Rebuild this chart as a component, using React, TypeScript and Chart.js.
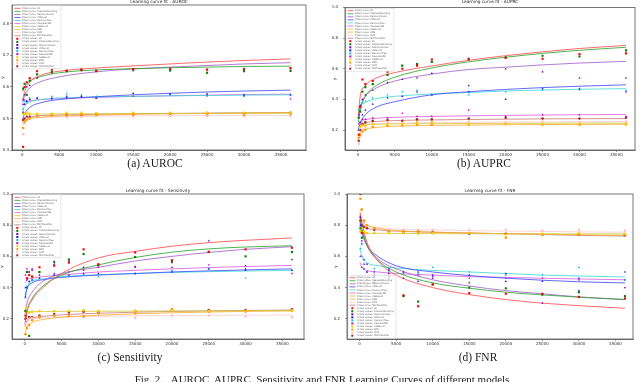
import React, { useEffect, useRef } from "react";
import { Chart, registerables } from "chart.js";

Chart.register(...registerables);

const MODELS = ["LR", "GradientBoosting", "RandomForest", "XGBoost", "DecisionTree", "GaussianNB", "AdaBoost", "KNN", "SVM", "MLPClassifier"];
const X_SIZES = [100, 300, 600, 1000, 2000, 4000, 6000, 8000, 10000, 15000, 20000, 25000, 30000, 36300];
const CURVE_X = [50, 300, 1000, 2500, 5000, 10000, 15000, 20000, 25000, 30000, 36300];
const X_TICKS = [0, 5000, 10000, 15000, 20000, 25000, 30000, 35000];
const Y_TICKS_AUROC = [0.4, 0.5, 0.6, 0.7, 0.8];
const Y_TICKS_UNIT = [0.2, 0.4, 0.6, 0.8, 1.0];

const FIT_COLORS = ["rgba(255,70,70,0.8)", "rgba(40,160,40,0.8)", "rgba(160,90,200,0.8)", "rgba(60,70,255,0.8)", "rgba(60,215,215,0.8)", "rgba(220,90,220,0.8)", "rgba(210,200,50,0.8)", "rgba(255,170,40,0.8)", "rgba(255,200,200,0.8)", "rgba(200,120,120,0.8)"];
const PT_COLORS = ["#ff0000", "#008000", "#7a00b8", "#1a1aff", "#00cccc", "#cc00cc", "#ffcc00", "#ff9900", "#ffc0cb", "#a52a2a"];
const PT_STYLES = ["rect", "rect", "triangle", "triangle", "triangle", "triangle", "circle", "circle", "circle", "circle"];

// ---- AUROC ----
const AUROC_FIT = [
  [0.56, 0.585, 0.615, 0.637, 0.650, 0.660, 0.667, 0.673, 0.679, 0.684, 0.689],
  [0.585, 0.600, 0.618, 0.633, 0.645, 0.654, 0.658, 0.661, 0.663, 0.665, 0.666],
  [0.55, 0.572, 0.597, 0.617, 0.632, 0.648, 0.657, 0.663, 0.668, 0.673, 0.677],
  [0.50, 0.515, 0.535, 0.550, 0.560, 0.569, 0.575, 0.580, 0.584, 0.587, 0.590],
  [0.525, 0.540, 0.552, 0.560, 0.565, 0.568, 0.570, 0.572, 0.573, 0.574, 0.575],
  [0.540, 0.548, 0.555, 0.560, 0.563, 0.567, 0.570, 0.572, 0.574, 0.576, 0.577],
  [0.512, 0.513, 0.514, 0.514, 0.515, 0.515, 0.516, 0.516, 0.516, 0.517, 0.517],
  [0.480, 0.490, 0.499, 0.504, 0.508, 0.511, 0.513, 0.515, 0.516, 0.517, 0.518],
  [0.490, 0.495, 0.500, 0.503, 0.505, 0.507, 0.508, 0.509, 0.509, 0.510, 0.510],
  [0.495, 0.500, 0.505, 0.509, 0.511, 0.513, 0.515, 0.516, 0.517, 0.518, 0.519],
];
const AUROC_PTS = [
  [0.41, 0.600, 0.615, 0.628, 0.650, 0.655, 0.652, 0.655, 0.650, 0.657, 0.658, 0.655, 0.657, 0.660],
  [0.595, 0.610, 0.575, 0.620, 0.640, 0.648, 0.650, 0.655, 0.652, 0.655, 0.652, 0.645, 0.650, 0.652],
  [0.560, 0.575, 0.600, 0.605, 0.628, 0.645, 0.650, 0.652, 0.650, 0.652, 0.655, 0.655, 0.650, 0.650],
  [0.52, 0.545, 0.555, 0.560, 0.565, 0.562, 0.566, 0.570, 0.565, 0.580, 0.577, 0.578, 0.575, 0.575],
  [0.530, 0.555, 0.550, 0.565, 0.565, 0.570, 0.578, 0.575, 0.570, 0.572, 0.575, 0.575, 0.570, 0.575],
  [0.545, 0.558, 0.555, 0.560, 0.565, 0.565, 0.570, 0.568, 0.565, 0.570, 0.578, 0.572, 0.572, 0.562],
  [0.515, 0.515, 0.518, 0.515, 0.515, 0.515, 0.518, 0.518, 0.517, 0.518, 0.518, 0.519, 0.518, 0.519],
  [0.470, 0.490, 0.495, 0.500, 0.508, 0.510, 0.510, 0.512, 0.512, 0.512, 0.515, 0.515, 0.512, 0.515],
  [0.450, 0.485, 0.500, 0.500, 0.505, 0.508, 0.505, 0.505, 0.508, 0.506, 0.508, 0.508, 0.508, 0.507],
  [0.495, 0.500, 0.505, 0.505, 0.508, 0.510, 0.512, 0.512, 0.513, 0.514, 0.516, 0.515, 0.516, 0.518],
];

// ---- AUPRC ----
const AUPRC_FIT = [
  [0.30, 0.42, 0.49, 0.54, 0.575, 0.618, 0.655, 0.685, 0.710, 0.732, 0.752],
  [0.25, 0.33, 0.42, 0.49, 0.545, 0.605, 0.645, 0.675, 0.700, 0.720, 0.740],
  [0.28, 0.35, 0.42, 0.475, 0.52, 0.565, 0.595, 0.61, 0.625, 0.637, 0.648],
  [0.20, 0.245, 0.30, 0.35, 0.385, 0.43, 0.45, 0.465, 0.477, 0.486, 0.495],
  [0.33, 0.355, 0.38, 0.405, 0.42, 0.435, 0.445, 0.455, 0.461, 0.466, 0.470],
  [0.24, 0.255, 0.268, 0.277, 0.283, 0.289, 0.293, 0.296, 0.298, 0.300, 0.302],
  [0.225, 0.23, 0.235, 0.238, 0.24, 0.242, 0.243, 0.244, 0.244, 0.245, 0.245],
  [0.16, 0.185, 0.205, 0.217, 0.225, 0.23, 0.233, 0.235, 0.236, 0.237, 0.238],
  [0.20, 0.22, 0.233, 0.24, 0.245, 0.248, 0.25, 0.252, 0.253, 0.254, 0.255],
  [0.22, 0.235, 0.248, 0.256, 0.262, 0.266, 0.269, 0.271, 0.273, 0.274, 0.275],
];
const AUPRC_PTS = [
  [0.17, 0.35, 0.53, 0.50, 0.52, 0.58, 0.60, 0.62, 0.66, 0.665, 0.67, 0.665, 0.695, 0.70],
  [0.28, 0.32, 0.45, 0.48, 0.50, 0.56, 0.62, 0.63, 0.645, 0.66, 0.675, 0.685, 0.68, 0.72],
  [0.30, 0.36, 0.40, 0.43, 0.46, 0.51, 0.53, 0.54, 0.57, 0.49, 0.60, 0.58, 0.54, 0.54],
  [0.20, 0.25, 0.30, 0.33, 0.37, 0.41, 0.42, 0.45, 0.43, 0.45, 0.40, 0.47, 0.47, 0.45],
  [0.33, 0.36, 0.38, 0.39, 0.41, 0.43, 0.45, 0.46, 0.43, 0.43, 0.45, 0.46, 0.46, 0.46],
  [0.24, 0.25, 0.27, 0.27, 0.28, 0.28, 0.31, 0.29, 0.29, 0.33, 0.29, 0.30, 0.30, 0.29],
  [0.20, 0.22, 0.23, 0.23, 0.24, 0.24, 0.24, 0.25, 0.25, 0.24, 0.24, 0.24, 0.24, 0.235],
  [0.15, 0.17, 0.19, 0.20, 0.22, 0.23, 0.23, 0.235, 0.235, 0.235, 0.24, 0.235, 0.235, 0.24],
  [0.11, 0.16, 0.20, 0.22, 0.24, 0.25, 0.245, 0.25, 0.25, 0.255, 0.25, 0.255, 0.25, 0.255],
  [0.13, 0.20, 0.24, 0.25, 0.26, 0.265, 0.26, 0.27, 0.27, 0.275, 0.28, 0.275, 0.275, 0.28],
];

// ---- Sensitivity ----
const SENS_FIT = [
  [0.15, 0.24, 0.32, 0.40, 0.49, 0.59, 0.632, 0.665, 0.688, 0.703, 0.718],
  [0.17, 0.25, 0.33, 0.41, 0.48, 0.545, 0.593, 0.627, 0.648, 0.66, 0.668],
  [0.23, 0.30, 0.37, 0.44, 0.49, 0.53, 0.57, 0.60, 0.625, 0.645, 0.662],
  [0.33, 0.39, 0.43, 0.45, 0.465, 0.48, 0.49, 0.50, 0.507, 0.513, 0.52],
  [0.35, 0.40, 0.44, 0.455, 0.47, 0.482, 0.49, 0.497, 0.502, 0.506, 0.51],
  [0.43, 0.45, 0.46, 0.47, 0.48, 0.50, 0.51, 0.52, 0.528, 0.535, 0.542],
  [0.24, 0.243, 0.245, 0.246, 0.247, 0.248, 0.249, 0.25, 0.25, 0.251, 0.252],
  [0.10, 0.145, 0.175, 0.195, 0.21, 0.222, 0.232, 0.238, 0.243, 0.247, 0.25],
  [0.17, 0.19, 0.20, 0.205, 0.21, 0.215, 0.218, 0.22, 0.222, 0.223, 0.224],
  [0.16, 0.19, 0.205, 0.215, 0.225, 0.235, 0.242, 0.247, 0.25, 0.253, 0.256],
];
const SENS_PTS = [
  [0.22, 0.46, 0.48, 0.47, 0.53, 0.54, 0.56, 0.645, 0.55, 0.625, 0.575, 0.63, 0.645, 0.655],
  [0.25, 0.50, 0.09, 0.47, 0.50, 0.565, 0.58, 0.615, 0.545, 0.596, 0.568, 0.628, 0.60, 0.628],
  [0.40, 0.45, 0.50, 0.52, 0.48, 0.55, 0.57, 0.53, 0.54, 0.535, 0.56, 0.70, 0.54, 0.58],
  [0.34, 0.40, 0.44, 0.45, 0.46, 0.48, 0.48, 0.49, 0.49, 0.49, 0.50, 0.52, 0.51, 0.51],
  [0.36, 0.41, 0.43, 0.45, 0.46, 0.48, 0.47, 0.48, 0.47, 0.49, 0.51, 0.52, 0.46, 0.51],
  [0.48, 0.52, 0.50, 0.51, 0.50, 0.49, 0.50, 0.51, 0.53, 0.53, 0.53, 0.545, 0.52, 0.49],
  [0.25, 0.27, 0.24, 0.245, 0.25, 0.25, 0.25, 0.255, 0.25, 0.25, 0.255, 0.25, 0.25, 0.25],
  [0.10, 0.14, 0.16, 0.19, 0.21, 0.22, 0.22, 0.215, 0.235, 0.235, 0.26, 0.245, 0.245, 0.255],
  [0.17, 0.19, 0.20, 0.205, 0.21, 0.215, 0.215, 0.215, 0.22, 0.205, 0.22, 0.22, 0.215, 0.21],
  [0.20, 0.19, 0.21, 0.21, 0.22, 0.23, 0.24, 0.245, 0.24, 0.25, 0.26, 0.255, 0.255, 0.26],
];

// ---- FNR ----
const FNR_FIT = [
  [0.88, 0.82, 0.69, 0.57, 0.48, 0.40, 0.355, 0.323, 0.30, 0.284, 0.267],
  [0.86, 0.78, 0.67, 0.575, 0.50, 0.43, 0.396, 0.37, 0.353, 0.338, 0.323],
  [0.86, 0.79, 0.68, 0.585, 0.52, 0.45, 0.41, 0.38, 0.36, 0.34, 0.323],
  [0.82, 0.755, 0.67, 0.60, 0.54, 0.50, 0.477, 0.46, 0.447, 0.437, 0.43],
  [0.65, 0.60, 0.56, 0.54, 0.525, 0.51, 0.50, 0.49, 0.48, 0.474, 0.468],
  [0.56, 0.53, 0.51, 0.50, 0.49, 0.48, 0.47, 0.465, 0.46, 0.455, 0.45],
  [0.75, 0.749, 0.748, 0.748, 0.747, 0.746, 0.745, 0.745, 0.745, 0.744, 0.744],
  [0.87, 0.83, 0.80, 0.78, 0.765, 0.755, 0.75, 0.745, 0.742, 0.738, 0.735],
  [0.90, 0.84, 0.80, 0.785, 0.775, 0.77, 0.765, 0.762, 0.76, 0.757, 0.755],
  [0.83, 0.80, 0.78, 0.77, 0.762, 0.755, 0.75, 0.745, 0.74, 0.735, 0.73],
];
const FNR_PTS = [
  [1.0, 0.75, 0.43, 0.42, 0.43, 0.47, 0.35, 0.28, 0.42, 0.365, 0.36, 0.36, 0.34, 0.33],
  [0.78, 0.72, 0.43, 0.45, 0.44, 0.46, 0.345, 0.31, 0.42, 0.40, 0.395, 0.355, 0.37, 0.345],
  [0.85, 0.70, 0.55, 0.50, 0.47, 0.49, 0.46, 0.44, 0.46, 0.43, 0.44, 0.30, 0.38, 0.40],
  [0.80, 0.68, 0.58, 0.55, 0.50, 0.52, 0.50, 0.50, 0.48, 0.48, 0.49, 0.44, 0.46, 0.50],
  [0.65, 0.60, 0.52, 0.50, 0.52, 0.50, 0.49, 0.49, 0.53, 0.50, 0.48, 0.48, 0.53, 0.45],
  [0.60, 0.53, 0.52, 0.50, 0.48, 0.51, 0.50, 0.48, 0.47, 0.46, 0.46, 0.46, 0.45, 0.45],
  [0.76, 0.78, 0.76, 0.75, 0.75, 0.75, 0.75, 0.745, 0.75, 0.75, 0.74, 0.745, 0.75, 0.745],
  [0.97, 0.90, 0.83, 0.80, 0.78, 0.76, 0.76, 0.76, 0.75, 0.75, 0.72, 0.74, 0.74, 0.74],
  [1.0, 0.90, 0.82, 0.80, 0.78, 0.77, 0.77, 0.77, 0.77, 0.77, 0.77, 0.765, 0.77, 0.765],
  [0.83, 0.80, 0.79, 0.78, 0.77, 0.76, 0.755, 0.76, 0.755, 0.745, 0.745, 0.74, 0.74, 0.735],
];

type Spec = {
  title: string;
  fits: number[][];
  pts: number[][];
  yTicks: number[];
  yMin: number;
  yMax: number;
  xMin: number;
  xMax: number;
  left: number;
  top: number;
  width: number;
  height: number;
  yw: number;
  xh: number;
  padTop: number;
  padRight: number;
  yTickPad: number;
  titleY: number;
  yLabelX: number;
  legendPos: "upper" | "lower";
};

const SPECS: Spec[] = [
  { title: "Learning curve fit - AUROC", fits: AUROC_FIT, pts: AUROC_PTS, yTicks: Y_TICKS_AUROC, yMin: 0.4, yMax: 0.86, xMin: -1400, xMax: 38390, left: 0, top: 0, width: 320, height: 162, yw: 12, xh: 12, padTop: 5, padRight: 14, yTickPad: 1, titleY: 1.5, yLabelX: 3, legendPos: "upper" },
  { title: "Learning curve fit - AUPRC", fits: AUPRC_FIT, pts: AUPRC_PTS, yTicks: Y_TICKS_UNIT, yMin: 0.07, yMax: 1.0, xMin: -1760, xMax: 37520, left: 320, top: 0, width: 320, height: 162, yw: 25, xh: 12, padTop: 5, padRight: 5, yTickPad: 5, titleY: 2, yLabelX: 15, legendPos: "upper" },
  { title: "Learning curve fit - Sensitivity", fits: SENS_FIT, pts: SENS_PTS, yTicks: Y_TICKS_UNIT, yMin: 0.07, yMax: 1.0, xMin: -1730, xMax: 37940, left: 0, top: 180, width: 320, height: 174, yw: 12, xh: 15, padTop: 14, padRight: 16, yTickPad: 1, titleY: 11, yLabelX: 2, legendPos: "upper" },
  { title: "Learning curve fit - FNR", fits: FNR_FIT, pts: FNR_PTS, yTicks: Y_TICKS_UNIT, yMin: 0.07, yMax: 1.0, xMin: -1730, xMax: 37400, left: 320, top: 180, width: 320, height: 174, yw: 27, xh: 15, padTop: 14, padRight: 7, yTickPad: 5, titleY: 11, yLabelX: 16, legendPos: "lower" },
];

const decorPlugin = {
  id: "decor",
  afterDraw(chart: any, _args: any, opts: any) {
    const { ctx, chartArea: a } = chart;
    ctx.save();
    // full frame
    ctx.strokeStyle = "#555";
    ctx.lineWidth = 0.8;
    ctx.strokeRect(a.left, a.top, a.right - a.left, a.bottom - a.top);
    // title
    ctx.fillStyle = "#222";
    ctx.font = "4.3px 'DejaVu Sans'";
    ctx.textAlign = "center";
    ctx.textBaseline = "middle";
    ctx.fillText(opts.title, (a.left + a.right) / 2, opts.titleY);
    // y label
    ctx.save();
    ctx.translate(opts.yLabelX, (a.top + a.bottom) / 2);
    ctx.rotate(-Math.PI / 2);
    ctx.font = "4px 'DejaVu Sans'";
    ctx.fillText("y", 0, 0);
    ctx.restore();
    // legend
    const rowH = 3.05;
    const n = MODELS.length * 2;
    ctx.font = "2.3px 'DejaVu Sans'";
    const labels: string[] = [];
    MODELS.forEach((m) => labels.push("Fitted curve: " + m));
    MODELS.forEach((m) => labels.push("Actual values: " + m));
    let maxW = 0;
    labels.forEach((l) => (maxW = Math.max(maxW, ctx.measureText(l).width)));
    const bw = maxW + 11;
    const bh = n * rowH + 2;
    const bx = a.left + 1;
    const by = opts.legendPos === "upper" ? a.top + 0.8 : a.bottom - 0.8 - bh;
    ctx.fillStyle = "rgba(255,255,255,0.85)";
    ctx.strokeStyle = "#d0d0d0";
    ctx.lineWidth = 0.5;
    ctx.fillRect(bx, by, bw, bh);
    ctx.strokeRect(bx, by, bw, bh);
    ctx.textAlign = "left";
    ctx.textBaseline = "middle";
    labels.forEach((l, i) => {
      const cy = by + 1 + i * rowH + rowH / 2;
      if (i < MODELS.length) {
        ctx.strokeStyle = FIT_COLORS[i];
        ctx.lineWidth = 1;
        ctx.beginPath();
        ctx.moveTo(bx + 1.5, cy);
        ctx.lineTo(bx + 7.5, cy);
        ctx.stroke();
      } else {
        ctx.fillStyle = PT_COLORS[i - MODELS.length];
        ctx.fillRect(bx + 3.3, cy - 1, 2, 2);
      }
      ctx.fillStyle = "#666";
      ctx.fillText(l, bx + 9, cy);
    });
    ctx.restore();
  },
};

function buildConfig(s: Spec): any {
  const datasets: any[] = [];
  s.fits.forEach((arr, i) => {
    datasets.push({
      label: "Fitted curve: " + MODELS[i],
      data: CURVE_X.map((x, j) => ({ x, y: arr[j] })),
      showLine: true,
      borderColor: FIT_COLORS[i],
      backgroundColor: FIT_COLORS[i],
      borderWidth: 1,
      pointRadius: 0,
      cubicInterpolationMode: "monotone",
      order: 2,
    });
  });
  s.pts.forEach((arr, i) => {
    datasets.push({
      label: "Actual values: " + MODELS[i],
      data: X_SIZES.map((x, j) => ({ x, y: arr[j] })),
      showLine: false,
      pointStyle: PT_STYLES[i],
      pointRadius: i < 2 ? 1.5 : 1.3,
      backgroundColor: PT_COLORS[i],
      borderColor: PT_COLORS[i],
      borderWidth: 0,
      order: 1,
    });
  });
  const tickFont = { size: 4, family: "'DejaVu Sans'" };
  return {
    type: "scatter",
    data: { datasets },
    options: {
      responsive: false,
      animation: false,
      events: [],
      layout: { padding: { left: 0, top: s.padTop, right: s.padRight, bottom: 0 } },
      plugins: {
        legend: { display: false },
        tooltip: { enabled: false },
        title: { display: false },
        decor: { title: s.title, titleY: s.titleY, yLabelX: s.yLabelX, legendPos: s.legendPos },
      },
      scales: {
        x: {
          type: "linear",
          min: s.xMin,
          max: s.xMax,
          afterBuildTicks: (sc: any) => {
            sc.ticks = X_TICKS.map((v) => ({ value: v }));
          },
          afterFit: (sc: any) => {
            sc.height = s.xh;
          },
          ticks: { font: tickFont, color: "#333", padding: 0.5, maxRotation: 0, autoSkip: false, callback: (v: any) => String(v) },
          grid: { display: true, drawOnChartArea: false, drawTicks: true, tickLength: 2, color: "#555", lineWidth: 0.6 },
          border: { display: true, color: "#555", width: 0.8 },
        },
        y: {
          type: "linear",
          min: s.yMin,
          max: s.yMax,
          afterBuildTicks: (sc: any) => {
            sc.ticks = s.yTicks.map((v) => ({ value: v }));
          },
          afterFit: (sc: any) => {
            sc.width = s.yw;
          },
          ticks: { font: tickFont, color: "#333", padding: s.yTickPad, autoSkip: false, callback: (v: any) => Number(v).toFixed(1) },
          grid: { display: true, drawOnChartArea: false, drawTicks: true, tickLength: 2, color: "#555", lineWidth: 0.6 },
          border: { display: true, color: "#555", width: 0.8 },
        },
      },
    },
    plugins: [decorPlugin],
  };
}

function Panel({ spec }: { spec: Spec }) {
  const ref = useRef<HTMLCanvasElement>(null);
  useEffect(() => {
    if (!ref.current) return;
    const chart = new Chart(ref.current, buildConfig(spec));
    return () => chart.destroy();
  }, [spec]);
  return (
    <canvas
      ref={ref}
      width={spec.width}
      height={spec.height}
      style={{ position: "absolute", left: spec.left, top: spec.top, width: spec.width, height: spec.height }}
    />
  );
}

const CAPTIONS = [
  { text: "(a) AUROC", x: 155, y: 163 },
  { text: "(b) AUPRC", x: 484, y: 163 },
  { text: "(c) Sensitivity", x: 130, y: 357 },
  { text: "(d) FNR", x: 478, y: 357 },
];
const FIG_CAPTION = "Fig. 2.   AUROC, AUPRC, Sensitivity and FNR Learning Curves of different models";

export default function App() {
  return (
    <div style={{ position: "absolute", left: 0, top: 0, width: 640, height: 382, overflow: "hidden", background: "#fff" }}>
      {SPECS.map((s, i) => (
        <Panel key={i} spec={s} />
      ))}
      {CAPTIONS.map((c, i) => (
        <div
          key={i}
          style={{
            position: "absolute",
            left: c.x - 100,
            top: c.y - 8,
            width: 200,
            textAlign: "center",
            fontFamily: "'Liberation Serif', serif",
            fontSize: 11.5,
            lineHeight: "16px",
            color: "#222",
            whiteSpace: "nowrap",
          }}
        >
          {c.text}
        </div>
      ))}
      <div
        style={{
          position: "absolute",
          left: 0,
          top: 372,
          width: 644,
          textAlign: "center",
          fontFamily: "'Liberation Serif', serif",
          fontSize: 11,
          lineHeight: "14px",
          color: "#222",
          whiteSpace: "pre",
        }}
      >
        {FIG_CAPTION}
      </div>
    </div>
  );
}
